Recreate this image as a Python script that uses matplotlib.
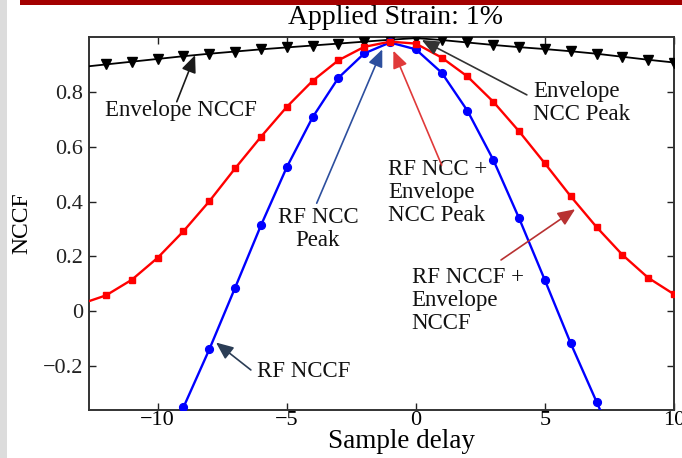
import matplotlib
matplotlib.use("Agg")
import matplotlib.pyplot as plt
from matplotlib.patches import Rectangle
from matplotlib.ticker import FixedLocator, FuncFormatter

# ---- data ----
env_x = list(range(-13, 11))
env_y = [0.890, 0.900, 0.910, 0.920, 0.930, 0.939, 0.947, 0.955, 0.962, 0.969,
         0.976, 0.983, 0.990, 0.996, 0.989, 0.980, 0.971, 0.963, 0.956, 0.948,
         0.939, 0.928, 0.917, 0.907]

rf_x = list(range(-10, 9))
rf_y = [-0.560, -0.350, -0.139, 0.086, 0.313, 0.525, 0.707, 0.851, 0.940, 0.980,
        0.955, 0.870, 0.731, 0.552, 0.339, 0.113, -0.117, -0.330, -0.545]

comb_x = list(range(-13, 11))
comb_y = [0.026, 0.058, 0.115, 0.195, 0.292, 0.401, 0.521, 0.636, 0.745, 0.840,
          0.915, 0.964, 0.983, 0.976, 0.925, 0.856, 0.764, 0.656, 0.539, 0.419,
          0.307, 0.206, 0.122, 0.062]

x_ticks = [-10, -5, 0, 5, 10]
y_ticks = [-0.2, 0, 0.2, 0.4, 0.6, 0.8]

title = "Applied Strain: 1%"
xlabel = "Sample delay"
ylabel = "NCCF"

SERIF = ["Liberation Serif", "DejaVu Serif"]
plt.rcParams["font.family"] = SERIF

fig = plt.figure(figsize=(6.82, 4.58), dpi=100)
fig.patch.set_facecolor("white")

# slide decorations
fig.patches.append(Rectangle((0, 0), 7 / 682, 1, transform=fig.transFigure,
                             facecolor="#dcdcdc", edgecolor="none", zorder=0))
fig.patches.append(Rectangle((20 / 682, 1 - 5 / 458), 1, 5 / 458,
                             transform=fig.transFigure, facecolor="#a30000",
                             edgecolor="none", zorder=0))

L, R, T, B = 89 / 682, 674 / 682, 1 - 37 / 458, 1 - 410 / 458
ax = fig.add_axes([L, B, R - L, T - B])

ax.plot(env_x, env_y, color="black", lw=1.3, marker="v", ms=6.5,
        markerfacecolor="black", zorder=3)
ax.plot(rf_x, rf_y, color="#0000ff", lw=1.7, marker="o", ms=5.6,
        markerfacecolor="#0000ff", zorder=4)
ax.plot(comb_x, comb_y, color="#ff0000", lw=1.7, marker="s", ms=5,
        markerfacecolor="#ff0000", zorder=5)

ax.set_xlim(-12.66, 10)
ax.set_ylim(-0.36, 1.0)

ax.xaxis.set_major_locator(FixedLocator(x_ticks))
ax.yaxis.set_major_locator(FixedLocator(y_ticks))
fmt = FuncFormatter(lambda v, p: ("%g" % round(v, 3)).replace("-", "\u2212"))
ax.xaxis.set_major_formatter(fmt)
ax.yaxis.set_major_formatter(fmt)
ax.tick_params(direction="in", length=5, width=1, top=True, right=True,
               labelsize=16, colors="#222222")
ax.tick_params(axis="x", labelcolor="black", pad=1)
ax.tick_params(axis="y", labelcolor="#222222", pad=4)
for s in ax.spines.values():
    s.set_color("#333333")
    s.set_linewidth(1.4)

fig.text(396 / 682, 1 - 18 / 458, title, ha="center", va="center",
         fontsize=20, color="black")
fig.text(402 / 682, 1 - 441 / 458, xlabel, ha="center", va="center",
         fontsize=19.5, color="black")
fig.text(22 / 682, 1 - 223 / 458, ylabel, ha="center", va="center",
         rotation=90, fontsize=17, color="black")

FS = 16.5
def label(x, y, s, ha="center"):
    ax.text(x, y, s, ha=ha, va="center", fontsize=FS, color="#111111",
            linespacing=1.12, multialignment=ha if ha != "center" else "center",
            zorder=6)

def arrow(tail, tip, color):
    ax.annotate("", xy=tip, xytext=tail,
                arrowprops=dict(arrowstyle="-|>,head_length=0.7,head_width=0.3",
                                color=color, lw=1.2, mutation_scale=15,
                                shrinkA=0, shrinkB=0), zorder=7)

label(-9.1, 0.731, "Envelope NCCF")
arrow((-9.26, 0.764), (-8.55, 0.934), "#1a1a1a")

label(4.54, 0.761, "Envelope\nNCC Peak", ha="left")
arrow((4.30, 0.789), (0.23, 0.989), "#333333")

label(-1.07, 0.432, "RF NCC +\nEnvelope\nNCC Peak", ha="left")
arrow((1.0, 0.533), (-0.87, 0.950), "#e03a3a")

label(-3.79, 0.301, "RF NCC\nPeak")
arrow((-3.84, 0.394), (-1.30, 0.955), "#2d4f9e")

label(-4.33, -0.220, "RF NCCF")
arrow((-6.39, -0.214), (-7.74, -0.114), "#2b3d55")

label(-0.16, 0.038, "RF NCCF +\nEnvelope\nNCCF", ha="left")
arrow((3.30, 0.187), (6.17, 0.372), "#b83232")

fig.savefig("out.png", dpi=100, facecolor=fig.get_facecolor())
